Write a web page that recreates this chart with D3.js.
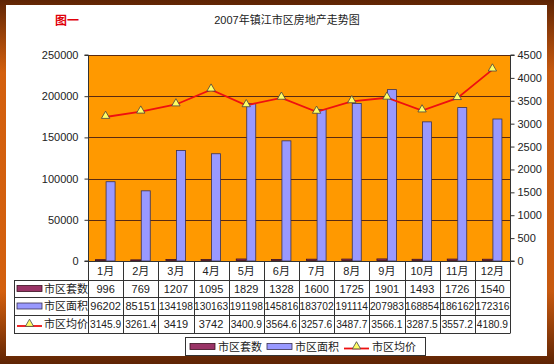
<!DOCTYPE html>
<html><head><meta charset="utf-8">
<script src="https://cdn.jsdelivr.net/npm/d3@7/dist/d3.min.js"></script>
<style>body{margin:0;background:#fff}svg{display:block}</style>
</head><body><div id="c"></div>
<script>
const months = ["1月","2月","3月","4月","5月","6月","7月","8月","9月","10月","11月","12月"];
const seriesNames = ["市区套数","市区面积","市区均价"];
const units = [996,769,1207,1095,1829,1328,1600,1725,1901,1493,1726,1540];
const areas = [96202,85151,134198,130163,191198,145816,183702,191114,207983,168854,186162,172316];
const prices = [3145.9,3261.4,3419,3742,3400.9,3564.6,3257.6,3487.7,3566.1,3287.5,3557.2,4180.9];
const unitsLabels = ["996","769","1207","1095","1829","1328","1600","1725","1901","1493","1726","1540"];
const areasLabels = ["96202","85151","134198","130163","191198","145816","183702","191114","207983","168854","186162","172316"];
const pricesLabels = ["3145.9","3261.4","3419","3742","3400.9","3564.6","3257.6","3487.7","3566.1","3287.5","3557.2","4180.9"];
const leftTicks = [0,50000,100000,150000,200000,250000];
const rightTicks = [0,500,1000,1500,2000,2500,3000,3500,4000,4500];

const W=554,H=364;
const FONT = "'Liberation Sans','Noto Sans CJK SC',Arial,sans-serif";
const svg = d3.select("#c").append("svg").attr("width",W).attr("height",H).style("font-family",FONT);
const defs = svg.append("defs");
const g1 = defs.append("linearGradient").attr("id","frame").attr("x1",0).attr("y1",0).attr("x2",1).attr("y2",0);
g1.append("stop").attr("offset","0%").attr("stop-color","#d4600e");
g1.append("stop").attr("offset","50%").attr("stop-color","#8a3a08");
g1.append("stop").attr("offset","100%").attr("stop-color","#c85a10");
const g2 = defs.append("linearGradient").attr("id","frameV").attr("x1",0).attr("y1",0).attr("x2",0).attr("y2",1);
g2.append("stop").attr("offset","0%").attr("stop-color","#5e2404").attr("stop-opacity",1);
g2.append("stop").attr("offset","20%").attr("stop-color","#6a2804").attr("stop-opacity",0);
g2.append("stop").attr("offset","80%").attr("stop-color","#6a2804").attr("stop-opacity",0);
g2.append("stop").attr("offset","100%").attr("stop-color","#5e2404").attr("stop-opacity",1);
svg.append("rect").attr("width",W).attr("height",H).attr("fill","url(#frame)");
svg.append("rect").attr("width",W).attr("height",H).attr("fill","url(#frameV)");
svg.append("rect").attr("x",6).attr("y",5).attr("width",541).attr("height",351).attr("fill","#fff");

// title
svg.append("text").attr("x",55).attr("y",25).attr("fill","#e0000a").attr("font-size",12).attr("font-weight","bold").text("图一");
svg.append("text").attr("x",287).attr("y",24).attr("text-anchor","middle").attr("font-size",11).attr("fill","#222").text("2007年镇江市区房地产走势图");

const px0=88,px1=510,py0=55,py1=261;
const x = d3.scaleBand().domain(months).range([px0,px1]).paddingInner(0).paddingOuter(0);
const yL = d3.scaleLinear().domain([0,250000]).range([py1,py0]);
const yR = d3.scaleLinear().domain([0,4500]).range([py1,py0]);
const sub = d3.scaleBand().domain(["units","areas"]).range([-10,10]);

svg.append("rect").attr("x",px0).attr("y",py0).attr("width",px1-px0).attr("height",py1-py0).attr("fill","#ff9900");
// grid
svg.append("g").selectAll("line").data(leftTicks.filter(d=>d>0)).join("line")
 .attr("x1",px0).attr("x2",px1).attr("y1",d=>Math.round(yL(d))+0.5).attr("y2",d=>Math.round(yL(d))+0.5)
 .attr("stroke","#5a2a10").attr("stroke-width",1);

// bars
const bw = sub.bandwidth();
const cx = m => x(m)+x.bandwidth()/2;
svg.append("g").selectAll("rect").data(units).join("rect")
 .attr("x",(d,i)=>cx(months[i])+sub("units")).attr("width",bw)
 .attr("y",d=>yL(d)-0.5).attr("height",d=>Math.max(1,py1-yL(d)))
 .attr("fill","#993366").attr("stroke","#3a1020").attr("stroke-width",0.8);
svg.append("g").selectAll("rect").data(areas).join("rect")
 .attr("x",(d,i)=>cx(months[i])+sub("areas")+0.5).attr("width",bw-1)
 .attr("y",d=>yL(d)).attr("height",d=>py1-yL(d))
 .attr("fill","#9999ff").attr("stroke","#3a3050").attr("stroke-width",0.8);

// axes
const axL = d3.axisLeft(yL).tickValues(leftTicks).tickSize(4).tickPadding(6).tickFormat(d3.format("d"));
const gL = svg.append("g").attr("transform",`translate(${px0+0.5},0)`).call(axL);
const axR = d3.axisRight(yR).tickValues(rightTicks).tickSize(4).tickPadding(3).tickFormat(d3.format("d"));
const gR = svg.append("g").attr("transform",`translate(${px1+0.5},0)`).call(axR);
[gL,gR].forEach(g=>{
  g.selectAll("text").attr("font-size",11).attr("fill","#222").style("font-family",FONT);
  g.selectAll("line").attr("stroke","#333");
  g.select(".domain").attr("stroke","#333");
});
gL.select(".domain").attr("d",`M-4,${py1}H0V${py0}H-4`);
gR.select(".domain").attr("d",`M4,${py1}H0V${py0}H4`);

// line
const line = d3.line().x((d,i)=>cx(months[i])).y(d=>yR(d));
svg.append("path").datum(prices).attr("d",line).attr("fill","none").attr("stroke","#ee1010").attr("stroke-width",1.8);
const tri = d3.symbol().type(d3.symbolTriangle).size(30);
svg.append("g").selectAll("path").data(prices).join("path")
 .attr("transform",(d,i)=>`translate(${cx(months[i])},${yR(d)-1})`).attr("d",tri)
 .attr("fill","#ffff66").attr("stroke","#444").attr("stroke-width",0.8);

// table
const rows = [261,280,297,315,333];
const tLeft = 14;
const tg = svg.append("g");
const lc="#333";
tg.append("line").attr("x1",px0).attr("x2",px1).attr("y1",rows[0]+0.5).attr("y2",rows[0]+0.5).attr("stroke",lc);
rows.slice(1).forEach(r=>tg.append("line").attr("x1",tLeft).attr("x2",px1).attr("y1",r+0.5).attr("y2",r+0.5).attr("stroke",lc));
tg.append("line").attr("x1",tLeft+0.5).attr("x2",tLeft+0.5).attr("y1",rows[1]).attr("y2",rows[4]+0.5).attr("stroke",lc);
const bounds = months.map(m=>x(m)).concat([px1]);
bounds.forEach(b=>tg.append("line").attr("x1",Math.round(b)+0.5).attr("x2",Math.round(b)+0.5).attr("y1",rows[0]).attr("y2",rows[4]+0.5).attr("stroke",lc));
tg.selectAll("text.m").data(months).join("text").attr("class","m")
 .attr("x",d=>cx(d)).attr("y",(rows[0]+rows[1])/2+4).attr("text-anchor","middle").attr("font-size",11).attr("fill","#222").text(d=>d);
const rowData = [unitsLabels,areasLabels,pricesLabels];
rowData.forEach((arr,ri)=>{
  const yy = (rows[ri+1]+rows[ri+2])/2+4;
  tg.append("g").selectAll("text").data(arr).join("text")
   .attr("x",(d,i)=>cx(months[i])).attr("y",yy).attr("text-anchor","middle")
   .attr("font-size",d=>d.length>=6?10.2:11).attr("fill","#222").text(d=>d);
  tg.append("text").attr("x",44).attr("y",yy).attr("font-size",11).attr("fill","#222").text(seriesNames[ri]);
});
function key(g,type,kx,ky){
  if(type===0) g.append("rect").attr("x",kx).attr("y",ky-3).attr("width",25).attr("height",6).attr("fill","#993366").attr("stroke","#3a1020").attr("stroke-width",0.8);
  else if(type===1) g.append("rect").attr("x",kx).attr("y",ky-3).attr("width",25).attr("height",6).attr("fill","#9999ff").attr("stroke","#3a3050").attr("stroke-width",0.8);
  else {
    g.append("line").attr("x1",kx).attr("x2",kx+25).attr("y1",ky+2).attr("y2",ky+2).attr("stroke","#ee1010").attr("stroke-width",1.8);
    g.append("path").attr("transform",`translate(${kx+12.5},${ky})`).attr("d",tri).attr("fill","#ffff66").attr("stroke","#444").attr("stroke-width",0.8);
  }
}
[0,1,2].forEach(i=>key(tg,i,17,(rows[i+1]+rows[i+2])/2));

// legend
const lg = svg.append("g");
lg.append("rect").attr("x",185.5).attr("y",337.5).attr("width",240).attr("height",18).attr("fill","#fff").attr("stroke","#333");
const lx=[190,267,344];
[0,1,2].forEach(i=>{
  key(lg,i,lx[i],346.5);
  lg.append("text").attr("x",lx[i]+28).attr("y",351).attr("font-size",11).attr("fill","#222").text(seriesNames[i]);
});
</script></body></html>
